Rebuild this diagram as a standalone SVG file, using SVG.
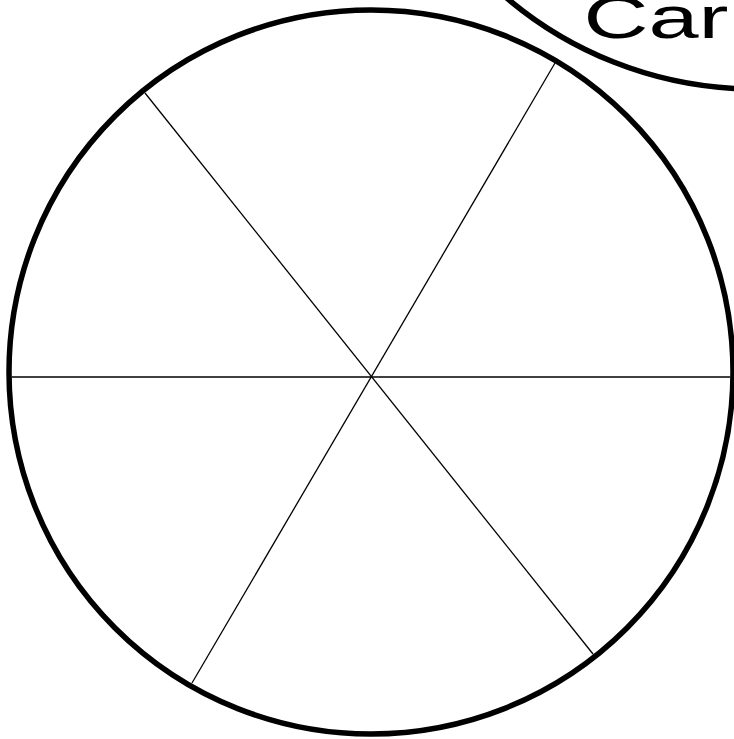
<svg xmlns="http://www.w3.org/2000/svg" width="734" height="739" viewBox="0 0 734 739">
<style>
.rim{fill:none;stroke:#000;stroke-width:5.5}
.spoke{stroke:#000;stroke-width:1.3;fill:none}
.lbl{font-family:"Liberation Sans",Arial,sans-serif;font-size:60px;fill:#000}
</style>
<rect width="734" height="739" fill="#fff"/>
<g id="wheel">
<circle class="rim" cx="371" cy="372" r="362"/>
</g>
<g id="connectors">
<line class="spoke" x1="12" y1="377" x2="730" y2="377"/>
<line class="spoke" x1="145" y1="93" x2="593" y2="654"/>
<line class="spoke" x1="555" y1="63" x2="192" y2="683"/>
</g>
<g id="car">
<circle class="rim" cx="755" cy="-295" r="384"/>
<text class="lbl" transform="translate(583.5,38) scale(1.5,1)" x="0" y="0">Car</text>
</g>
</svg>
